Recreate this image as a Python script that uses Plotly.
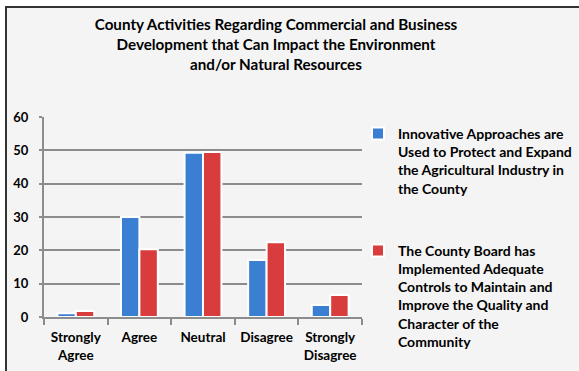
import plotly.graph_objects as go

categories = ["Strongly<br>Agree", "Agree", "Neutral", "Disagree", "Strongly<br>Disagree"]
innovative = [1.1, 30.0, 49.3, 17.1, 3.6]
county_board = [1.8, 20.3, 49.5, 22.4, 6.6]
series_names = [
    "Innovative Approaches are<br>Used to Protect and Expand<br>the Agricultural Industry in<br>the County",
    "The County Board has<br>Implemented Adequate<br>Controls to Maintain and<br>Improve the Quality and<br>Character of the<br>Community",
]
y_ticks = [0, 10, 20, 30, 40, 50, 60]
title_text = ("County Activities Regarding Commercial and Business<br>"
              "Development that Can Impact the Environment<br>"
              "and/or Natural Resources")

FONT = "Lato"
BG = "#f4f4f4"
GRID = "#8c8c8c"

W, H = 579, 371
L, R, T, B = 44, 217, 117, 54
PW, PH = W - L - R, H - T - B


def px_x(x):
    return (x - L) / PW


def px_y(y):
    return (H - B - y) / PH


fig = go.Figure()
fig.add_trace(go.Bar(
    x=categories, y=innovative, name=series_names[0], legendgroup="a",
    marker=dict(color="#3b7fd2", line=dict(color="#ffffff", width=2)),
))
fig.add_trace(go.Bar(
    x=categories, y=county_board, name=series_names[1], legendgroup="b",
    marker=dict(color="#d83c3c", line=dict(color="#ffffff", width=2)),
))

fig.update_layout(
    width=W, height=H,
    paper_bgcolor="white",
    plot_bgcolor=BG,
    margin=dict(l=L, r=R, t=T, b=B, autoexpand=False),
    barmode="group",
    bargap=0.42,
    bargroupgap=0.0,
    font=dict(family=FONT, size=12, color="#000000"),
    title=dict(
        text="<b>" + title_text + "</b>",
        x=276 / W, xanchor="center", xref="container",
        y=1 - 30 / H, yanchor="top", yref="container",
        font=dict(family=FONT, size=15.2, color="#000000"),
    ),
    legend=dict(
        x=px_x(358), xanchor="left",
        y=px_y(118), yanchor="top",
        valign="top",
        tracegroupgap=41,
        traceorder="grouped",
        maxheight=H,
        bgcolor="rgba(0,0,0,0)",
        font=dict(family=FONT, size=14, color="#000000", weight="bold"),
    ),
    xaxis=dict(
        showgrid=False,
        showline=True, linecolor=GRID, linewidth=2,
        ticks="outside", ticklen=6, tickcolor=GRID, tickwidth=2,
        tickson="boundaries",
        ticklabelstandoff=7,
        tickfont=dict(family=FONT, size=13.5, color="#000000", weight="bold"),
    ),
    yaxis=dict(
        range=[0, 60], tickvals=y_ticks,
        showgrid=True, gridcolor=GRID, gridwidth=2,
        showline=True, linecolor=GRID, linewidth=2,
        zeroline=False,
        ticks="outside", ticklen=3, tickcolor=GRID, tickwidth=2,
        ticklabelstandoff=8,
        tickfont=dict(family=FONT, size=13, color="#000000", weight="bold"),
    ),
)

# chart background panel and frame (top and left dark borders)
fig.add_shape(type="rect", xref="paper", yref="paper",
              x0=px_x(5), x1=px_x(W), y0=px_y(H), y1=px_y(7),
              line=dict(width=0), fillcolor=BG, layer="below")
fig.add_shape(type="line", xref="paper", yref="paper",
              x0=px_x(5), x1=px_x(W), y0=px_y(7), y1=px_y(7),
              line=dict(color="#333333", width=2))
fig.add_shape(type="line", xref="paper", yref="paper",
              x0=px_x(6), x1=px_x(6), y0=px_y(H), y1=px_y(7),
              line=dict(color="#333333", width=2))

fig.write_html(
    "out.html",
    config={"displayModeBar": False},
    post_script="document.body.style.margin='0';document.body.style.overflow='hidden';",
)
